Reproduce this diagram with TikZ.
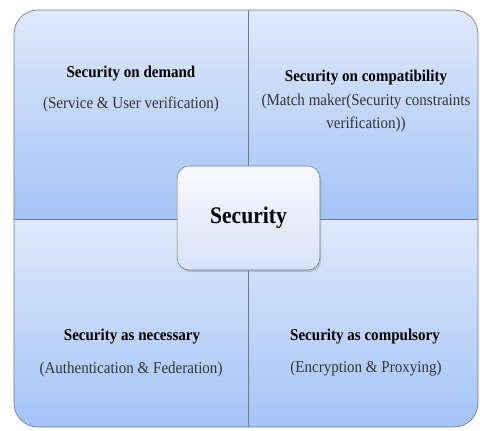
\documentclass[tikz,border=0pt]{standalone}
\usepackage{fontspec}
\setmainfont{Liberation Serif}[FakeStretch=0.91]
\usetikzlibrary{shadows}
\definecolor{quadtop}{RGB}{224,233,251}
\definecolor{quadbottom}{RGB}{164,196,246}
\definecolor{boxtop}{RGB}{248,249,254}
\definecolor{boxbottom}{RGB}{216,226,248}
\definecolor{edgegray}{RGB}{110,120,135}
\definecolor{desctext}{RGB}{50,50,55}

\begin{document}
\begin{tikzpicture}[x=0.75pt, y=-0.75pt,
    quad/.style={top color=quadtop, bottom color=quadbottom},
    title/.style={font=\fontsize{12.4}{14}\selectfont\bfseries},
    desc/.style={font=\fontsize{12.4}{17}\selectfont, text=desctext, align=center}]
    \useasboundingbox (0,0) rectangle (480,430);
    % Draw the four quadrants
    \begin{scope}
      \clip[rounded corners=18pt] (14,10) rectangle (478,427);
      \fill[quad] (14,10) rectangle (248,219);
      \fill[quad] (248,10) rectangle (478,219);
      \fill[quad] (14,219) rectangle (248,427);
      \fill[quad] (248,219) rectangle (478,427);
    \end{scope}
    \draw[edgegray] (14,219) -- (478,219);
    \draw[edgegray] (248,10) -- (248,427);
    \draw[edgegray, rounded corners=18pt] (14,10) rectangle (478,427);

    % Centre box
    \node[draw=edgegray, rounded corners=9pt, top color=boxtop,
      bottom color=boxbottom,
      drop shadow={shadow xshift=1.2pt, shadow yshift=-1.5pt, opacity=0.35},
      minimum width=107pt, minimum height=78pt,
      font=\fontsize{17.8}{20}\selectfont\bfseries] (security) at (248.5,218) {Security};

    % Quadrant texts
    \node[title] (demand) at (131,74) {Security on demand};
    \node[desc] (demanddesc) at (131,104) {(Service \& User verification)};
    \node[title] (compat) at (366,78) {Security on compatibility};
    \node[desc] (compatdesc) at (366,113) {(Match maker(Security constraints\\verification))};
    \node[title] (necessary) at (132,337) {Security as necessary};
    \node[desc] (necessarydesc) at (131,370) {(Authentication \& Federation)};
    \node[title] (compulsory) at (365,337) {Security as compulsory};
    \node[desc] (compulsorydesc) at (366,369) {(Encryption \& Proxying)};
  \end{tikzpicture}
\end{document}
